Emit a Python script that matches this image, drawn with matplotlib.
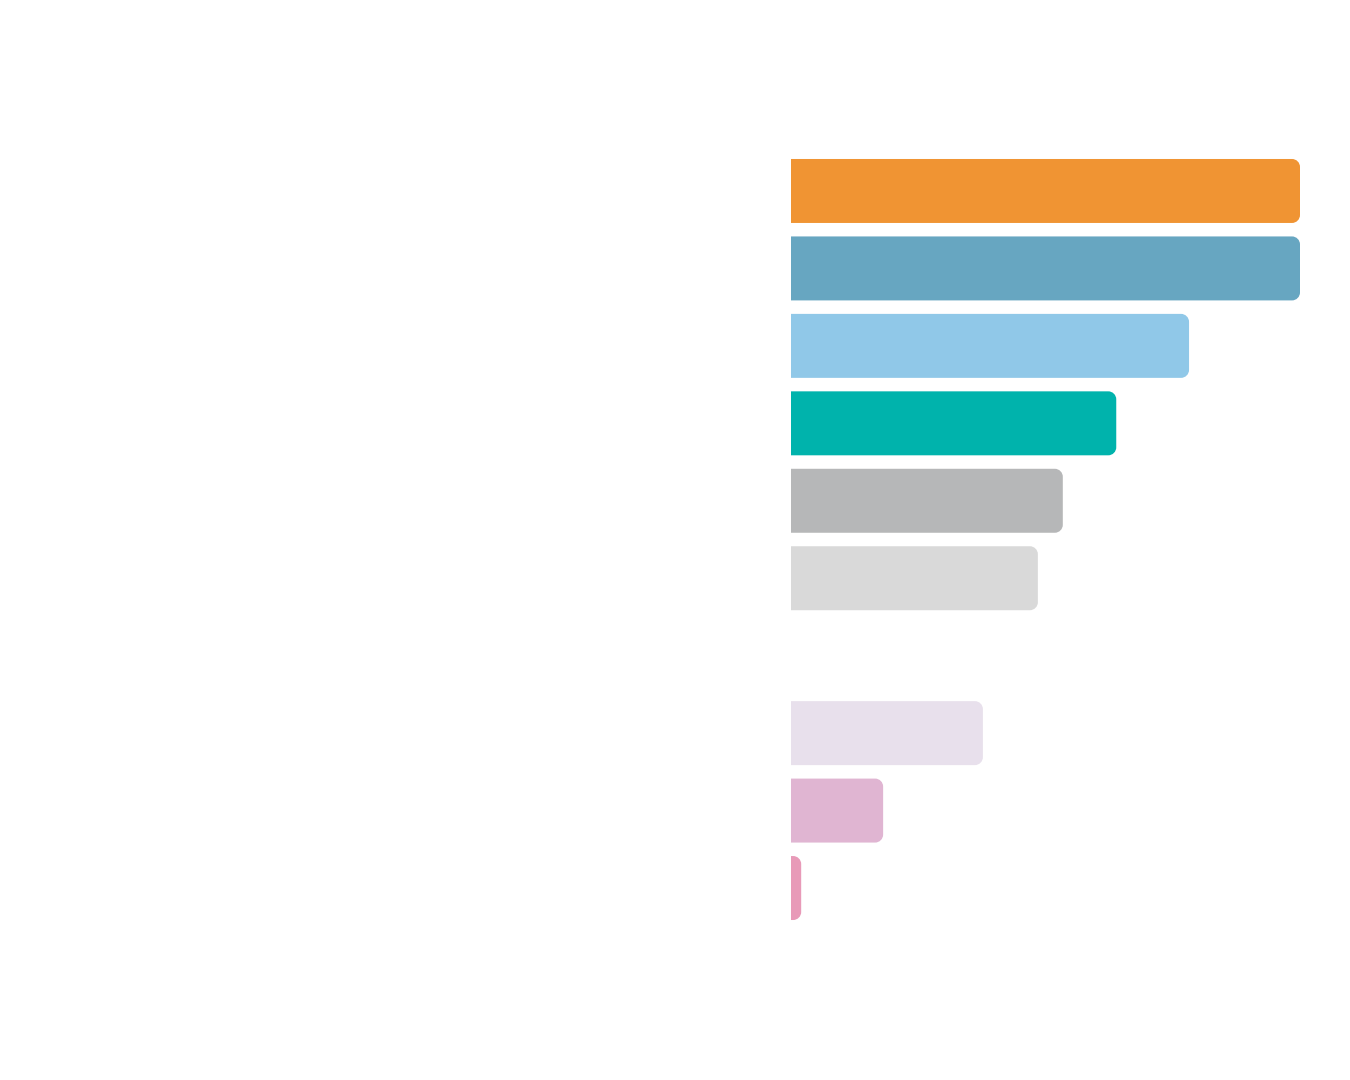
import matplotlib
matplotlib.use('Agg')
import numpy as np
from matplotlib import pyplot as plt
from matplotlib.path import Path
from matplotlib.patches import PathPatch

# значения полос (пустой слот — None)
categories = ['A', 'B', 'C', 'D', 'E', 'F', 'G', 'H', 'I', 'J']
values = [100.0, 100.0, 78.2, 63.9, 53.4, 48.5, None, 37.7, 18.1, 2.0]
colors = ['#F09433', '#67A6C1', '#90C8E8', '#00B3AC', '#B6B7B8',
          '#D9D9D9', '#FFFFFF', '#E8E0EC', '#E0B5D2', '#E89AB8']

fig = plt.figure(figsize=(13.5, 10.8), dpi=100)
ax = fig.add_axes([791 / 1350, 1 - 926.75 / 1080, 509 / 1350, (926.75 - 152.25) / 1080])

ypos = np.arange(len(categories))
vals = [v if v is not None else 0 for v in values]
bars = ax.barh(ypos, vals, height=0.826, color=colors)
ax.set_xlim(0, 100)
ax.set_ylim(len(categories) - 0.5, -0.5)
ax.axis('off')

# скругляем правые углы: переводим радиус из пикселей в единицы данных
fig.canvas.draw()
bbox = ax.get_window_extent()
px_x = bbox.width / 100.0
px_y = bbox.height / len(categories)
r_px = 8.0
k = 0.5523

for bar, v in zip(bars, values):
    bar.set_visible(False)
    if v is None or v <= 0:
        continue
    x0, y0 = bar.get_x(), bar.get_y()
    w, h = bar.get_width(), bar.get_height()
    rx = min(r_px / px_x, w)
    ry = min(r_px / px_y, h / 2)
    x1, y1 = x0 + w, y0 + h
    verts = [
        (x0, y0),
        (x1 - rx, y0),
        (x1 - rx + k * rx, y0), (x1, y0 + ry - k * ry), (x1, y0 + ry),
        (x1, y1 - ry),
        (x1, y1 - ry + k * ry), (x1 - rx + k * rx, y1), (x1 - rx, y1),
        (x0, y1),
        (x0, y0),
    ]
    codes = [Path.MOVETO, Path.LINETO,
             Path.CURVE4, Path.CURVE4, Path.CURVE4,
             Path.LINETO,
             Path.CURVE4, Path.CURVE4, Path.CURVE4,
             Path.LINETO, Path.CLOSEPOLY]
    patch = PathPatch(Path(verts, codes), facecolor=bar.get_facecolor(),
                      edgecolor='none', transform=ax.transData)
    ax.add_patch(patch)

fig.savefig('out.png', dpi=100, facecolor='white')
plt.close(fig)
